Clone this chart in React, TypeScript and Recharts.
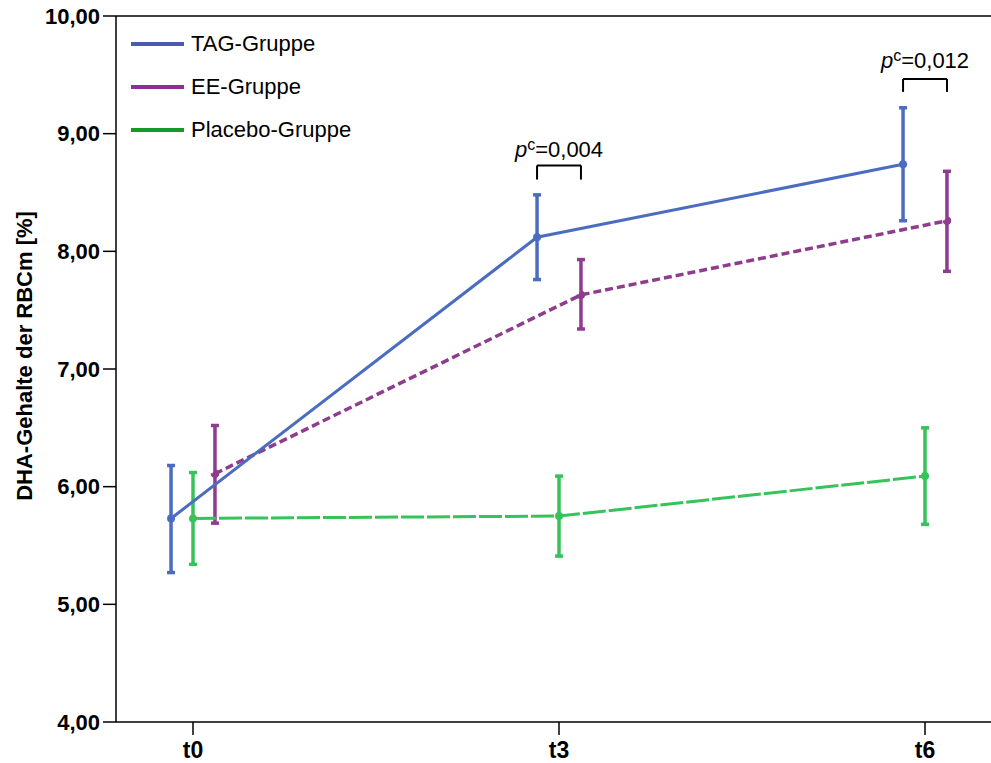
import React from 'react';
import { LineChart, Line, XAxis, YAxis, ErrorBar, ReferenceLine, ReferenceDot, Legend } from 'recharts';

const categories = ['t0', 't3', 't6'];
const yTicks = [4, 5, 6, 7, 8, 9, 10];

const tagMean = [5.73, 8.12, 8.74];
const tagLow = [5.27, 7.76, 8.26];
const tagHigh = [6.18, 8.48, 9.22];

const eeMean = [6.11, 7.63, 8.26];
const eeLow = [5.69, 7.34, 7.83];
const eeHigh = [6.52, 7.93, 8.68];

const placeboMean = [5.73, 5.75, 6.09];
const placeboLow = [5.34, 5.41, 5.68];
const placeboHigh = [6.12, 6.09, 6.5];

const seriesNames = ['TAG-Gruppe', 'EE-Gruppe', 'Placebo-Gruppe'];
const legendColors = ['#4a5bb1', '#8d2f96', '#14992b'];

const pLabels = ['0,004', '0,012'];
const pCategory = [1, 2];
const pBracketTop = [8.73, 9.465];
const pBracketBottom = [8.61, 9.355];
const pTextY = [8.8, 9.558];

const BLUE = '#4b6cc0';
const PURPLE = '#8e3c8e';
const GREEN = '#35c35a';
const DODGE = 0.06;

const build = (mean: number[], low: number[], high: number[], off: number) =>
  categories.map((c, i) => ({
    x: i + off,
    y: mean[i],
    err: [mean[i] - low[i], high[i] - mean[i]],
  }));

const tagData = build(tagMean, tagLow, tagHigh, -DODGE);
const eeData = build(eeMean, eeLow, eeHigh, DODGE);
const placeboData = build(placeboMean, placeboLow, placeboHigh, 0);

const fmt = (v: number) => v.toFixed(2).replace('.', ',');

const LegendContent = () => (
  <div style={{ fontFamily: 'Liberation Sans, Arial, sans-serif' }}>
    {seriesNames.map((n, i) => (
      <div key={n} style={{ height: 43, display: 'flex', alignItems: 'center' }}>
        <div style={{ width: 53, height: 4, background: legendColors[i], marginRight: 7 }} />
        <span style={{ fontSize: 22, color: '#000' }}>{n}</span>
      </div>
    ))}
  </div>
);

const YLabel = (props: any) => {
  const vb = props.viewBox || { x: 0, y: 0, width: 0, height: 0 };
  const cx = vb.x + 16;
  const cy = vb.y + vb.height / 2 - 13;
  return (
    <text
      x={cx}
      y={cy}
      transform={`rotate(-90 ${cx} ${cy})`}
      textAnchor="middle"
      dominantBaseline="central"
      fontSize={22}
      fontWeight="bold"
      fill="#000"
    >
      DHA-Gehalte der RBCm [%]
    </text>
  );
};

const pShape = (label: string) => (props: any) => (
  <text x={props.cx} y={props.cy} textAnchor="middle" fontSize={22} fill="#000">
    <tspan fontStyle="italic">p</tspan>
    <tspan fontSize={16} dy={-7}>c</tspan>
    <tspan dy={7}>={label}</tspan>
  </text>
);

export default function App() {
  return (
    <div
      style={{
        fontFamily: 'Liberation Sans, Arial, sans-serif',
        position: 'absolute',
        left: 0,
        top: 0,
        width: 991,
        height: 763,
        overflow: 'hidden',
      }}
    >
      <LineChart width={991} height={763} margin={{ top: 16, right: 0, bottom: 0, left: 8 }}>
        <XAxis
          type="number"
          dataKey="x"
          domain={[-0.2104, 2.1803]}
          ticks={[0, 1, 2]}
          tickFormatter={(v: number) => categories[v]}
          height={41}
          tickSize={13}
          tickMargin={7}
          axisLine={{ stroke: '#000', strokeWidth: 1.5 }}
          tickLine={{ stroke: '#000', strokeWidth: 1.5 }}
          tick={{ fontSize: 23, fontWeight: 'bold', fill: '#000' }}
          allowDataOverflow
        />
        <YAxis
          type="number"
          domain={[4, 10]}
          ticks={yTicks}
          tickFormatter={fmt}
          width={108}
          tickSize={13}
          tickMargin={3}
          axisLine={{ stroke: '#000', strokeWidth: 1.5 }}
          tickLine={{ stroke: '#000', strokeWidth: 1.5 }}
          tick={{ fontSize: 22, fontWeight: 'bold', fill: '#000' }}
          label={<YLabel />}
          allowDataOverflow
        />
        <ReferenceLine y={10} stroke="#000" strokeWidth={1.5} />
        <Legend
          layout="vertical"
          align="center"
          verticalAlign="middle"
          content={<LegendContent />}
          wrapperStyle={{ left: 131, top: 22, width: 'auto', height: 'auto' }}
        />
        <Line
          data={eeData}
          dataKey="y"
          stroke={PURPLE}
          strokeWidth={3.5}
          strokeDasharray="8 4"
          dot={{ r: 2.5, fill: PURPLE, stroke: PURPLE }}
          isAnimationActive={false}
        >
          <ErrorBar dataKey="err" direction="y" width={4} strokeWidth={3.5} stroke={PURPLE} />
        </Line>
        <Line
          data={placeboData}
          dataKey="y"
          stroke={GREEN}
          strokeWidth={3}
          strokeDasharray="23 3"
          dot={{ r: 2.5, fill: GREEN, stroke: GREEN }}
          isAnimationActive={false}
        >
          <ErrorBar dataKey="err" direction="y" width={4} strokeWidth={3.5} stroke={GREEN} />
        </Line>
        <Line
          data={tagData}
          dataKey="y"
          stroke={BLUE}
          strokeWidth={3}
          dot={{ r: 2.5, fill: BLUE, stroke: BLUE }}
          isAnimationActive={false}
        >
          <ErrorBar dataKey="err" direction="y" width={4} strokeWidth={3.5} stroke={BLUE} />
        </Line>
        {pLabels.map((lab, i) => {
          const x1 = pCategory[i] - DODGE;
          const x2 = pCategory[i] + DODGE;
          return [
            <ReferenceLine key={`t${i}`} segment={[{ x: x1, y: pBracketTop[i] }, { x: x2, y: pBracketTop[i] }]} stroke="#000" strokeWidth={2} />,
            <ReferenceLine key={`l${i}`} segment={[{ x: x1, y: pBracketTop[i] }, { x: x1, y: pBracketBottom[i] }]} stroke="#000" strokeWidth={2} />,
            <ReferenceLine key={`r${i}`} segment={[{ x: x2, y: pBracketTop[i] }, { x: x2, y: pBracketBottom[i] }]} stroke="#000" strokeWidth={2} />,
            <ReferenceDot key={`p${i}`} x={pCategory[i]} y={pTextY[i]} r={0} shape={pShape(lab)} />,
          ];
        })}
      </LineChart>
    </div>
  );
}
